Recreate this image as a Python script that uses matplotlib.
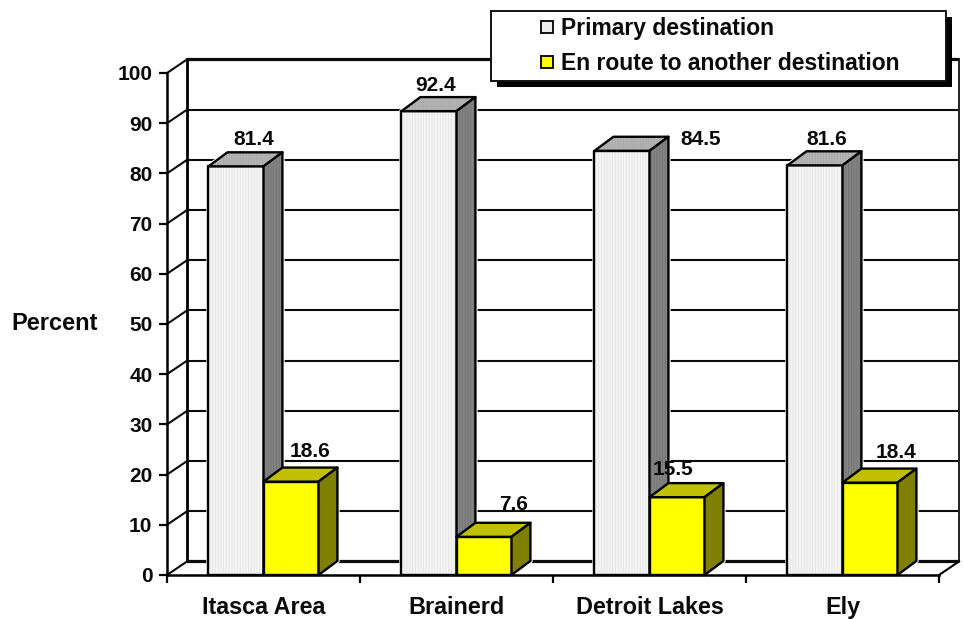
import matplotlib
matplotlib.use("Agg")
import matplotlib.pyplot as plt
from matplotlib.lines import Line2D
from matplotlib.patches import Polygon, Rectangle

# Survey shares by destination community
categories = ["Itasca Area", "Brainerd", "Detroit Lakes", "Ely"]
primary = [81.4, 92.4, 84.5, 81.6]
en_route = [18.6, 7.6, 15.5, 18.4]
series_names = ["Primary destination", "En route to another destination"]
y_ticks = [0, 10, 20, 30, 40, 50, 60, 70, 80, 90, 100]

W, H = 963, 619
FONT = "Liberation Sans"
INK = "#0A0A0A"
BAR_W = 0.285
WALL_DX, WALL_DY = 0.104, 2.7     # depth of the chart box, in data units
BAR_DX, BAR_DY = 0.098, 2.8       # depth of each column
LINE = 1.7

# Pixel nudges of the value labels relative to the top centre of their column
primary_nudge = [(18, 27), (7, 26), (79, 11), (12, 26)]
en_route_nudge = [(19, 30), (30, 32), (-4, 28), (26, 30)]

plt.rcParams["hatch.linewidth"] = 0.7

fig = plt.figure(figsize=(W / 100, H / 100), dpi=100, facecolor="white")
ax = fig.add_axes([167 / W, 1 - 575 / H, 772 / W, 502 / H])
ax.set_xlim(0, len(categories))
ax.set_ylim(0, 100)
ax.patch.set_visible(False)


def to_fig(px, py):
    return px / W, 1 - py / H


# Back wall, floor and the diagonal tick connectors
for v in y_ticks:
    lw = 2.3 if v in (0, 100) else 1.5
    ax.plot([WALL_DX, len(categories) + WALL_DX], [v + WALL_DY] * 2, color=INK,
            lw=lw, clip_on=False, zorder=1, solid_capstyle="butt")
    ax.plot([0, WALL_DX], [v, v + WALL_DY], color=INK, lw=1.5,
            clip_on=False, zorder=1)
ax.plot([WALL_DX, WALL_DX], [WALL_DY, 100 + WALL_DY], color="black", lw=2,
        clip_on=False, zorder=1)
ax.plot([len(categories) + WALL_DX] * 2, [WALL_DY, 100 + WALL_DY], color="#222222",
        lw=1.4, clip_on=False, zorder=1)
ax.plot([len(categories), len(categories) + WALL_DX], [0, WALL_DY], color="black",
        lw=1.5, clip_on=False, zorder=1)


def column(x0, x1, h, front, top, side):
    """Return the three visible faces of a column and paint its white halo."""
    outline = [(x0, 0), (x1, 0), (x1 + BAR_DX, BAR_DY), (x1 + BAR_DX, h + BAR_DY),
               (x0 + BAR_DX, h + BAR_DY), (x0, h)]
    # The halo interrupts the grid lines around the column
    ax.add_patch(Polygon(outline, closed=True, fc="white", ec="white", lw=3.2,
                         clip_on=False, zorder=2))
    return [
        ([(x0, 0), (x1, 0), (x1, h), (x0, h)], front),
        ([(x0, h), (x1, h), (x1 + BAR_DX, h + BAR_DY), (x0 + BAR_DX, h + BAR_DY)], top),
        ([(x1, 0), (x1 + BAR_DX, BAR_DY), (x1 + BAR_DX, h + BAR_DY), (x1, h)], side),
    ]


# Each face style is (fill, stripe colour or None)
queued = []
for i, (p, e) in enumerate(zip(primary, en_route)):
    c = i + 0.5
    queued.append(column(c - BAR_W, c, p, ("#F5F5F5", "#E6E6E6"), ("#B4B4B4", "#A8A8A8"),
                         ("#848484", "#747474")))
    queued.append(column(c, c + BAR_W, e, ("#FFFF00", None), ("#C0C000", None), ("#808000", None)))

for faces in queued:
    for pts, (fill, stripe) in faces:
        if stripe:
            ax.add_patch(Polygon(pts, closed=True, fc=fill, ec=stripe, lw=0, hatch="||||||",
                                 clip_on=False, zorder=3))
        ax.add_patch(Polygon(pts, closed=True, fc="none" if stripe else fill, ec="black",
                             lw=LINE, joinstyle="round", clip_on=False, zorder=3))

# Axis lines and ticks
for name in ("top", "right"):
    ax.spines[name].set_visible(False)
for name in ("left", "bottom"):
    ax.spines[name].set_linewidth(1.8)
ax.set_yticks(y_ticks)
ax.tick_params(axis="y", length=5.5, width=1.6, pad=5)
ax.set_xticks(range(len(categories) + 1))
ax.set_xticklabels([])
ax.tick_params(axis="x", length=6, width=1.6)
ax.set_xticks([i + 0.5 for i in range(len(categories))], minor=True)
ax.set_xticklabels(categories, minor=True, fontsize=16.8, fontweight="bold",
                   family=FONT, color=INK)
ax.tick_params(axis="x", which="minor", length=0, pad=15)
for t in ax.get_yticklabels():
    t.set_fontsize(15)
    t.set_fontweight("bold")
    t.set_family(FONT)
    t.set_color(INK)

ax.set_ylabel("Percent", rotation=0, fontsize=17, fontweight="bold", family=FONT,
              color=INK, ha="center", va="center")
ax.yaxis.set_label_coords(-0.145, 0.5)

# Value labels
for i, (p, e) in enumerate(zip(primary, en_route)):
    c = i + 0.5
    for x, v, (ox, oy) in ((c - BAR_W / 2, p, primary_nudge[i]), (c + BAR_W / 2, e, en_route_nudge[i])):
        ax.annotate(f"{v:.1f}", xy=(x, v), xytext=(ox * 0.72, oy * 0.72),
                    textcoords="offset points", ha="center", va="center",
                    fontsize=15, fontweight="bold", family=FONT, color=INK,
                    annotation_clip=False, zorder=6)

# Legend box with its drop shadow
x0, y1 = to_fig(497, 87)
x1, y0 = to_fig(952, 17)
ax.add_patch(Rectangle((x0, y1), x1 - x0, y0 - y1, transform=fig.transFigure,
                       fc="black", ec="black", lw=0, clip_on=False, zorder=7))
x0, y1 = to_fig(491, 81)
x1, y0 = to_fig(946, 11)
ax.add_patch(Rectangle((x0, y1), x1 - x0, y0 - y1, transform=fig.transFigure,
                       fc="white", ec="#111111", lw=1.4, clip_on=False, zorder=7.5))
handles = [
    Line2D([], [], ls="none", marker="s", ms=9, mfc="#EDEDED", mec="#111111", mew=1.4),
    Line2D([], [], ls="none", marker="s", ms=9, mfc="#FFFF00", mec="#111111", mew=1.4),
]
leg = ax.legend(handles, series_names, loc="upper left", bbox_to_anchor=to_fig(536, 17),
                bbox_transform=fig.transFigure, frameon=False, borderpad=0, borderaxespad=0,
                handlelength=1, handletextpad=0.1, labelspacing=0.52, numpoints=1,
                prop={"family": FONT, "weight": "bold", "size": 16.5})
leg.set_zorder(8)
for t in leg.get_texts():
    t.set_color(INK)

fig.savefig("out.png", dpi=100)
